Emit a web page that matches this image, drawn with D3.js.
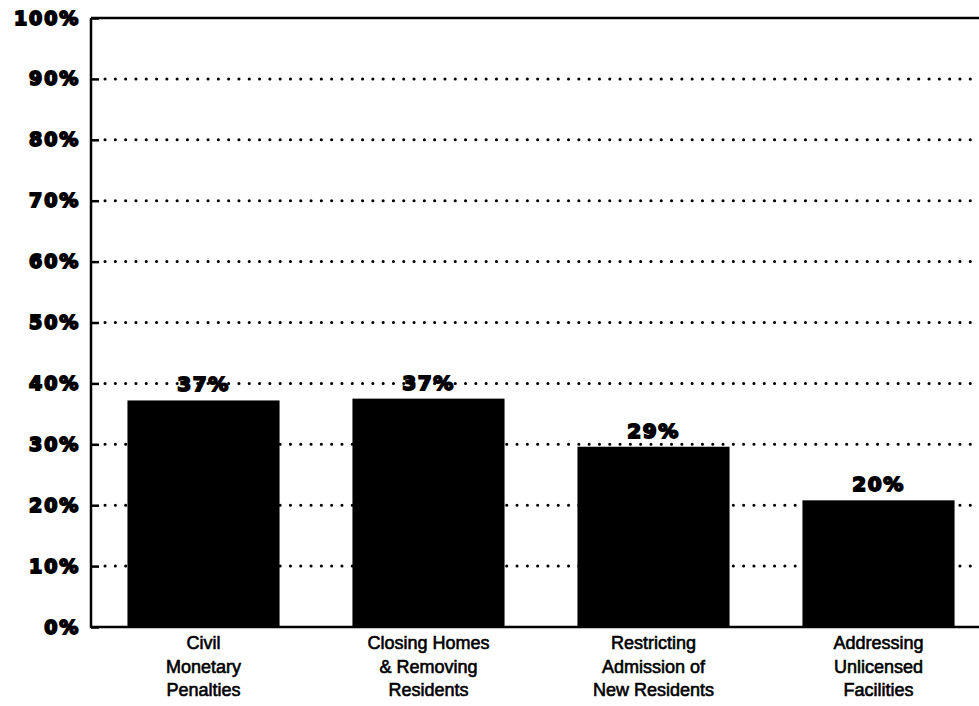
<!DOCTYPE html>
<html>
<head>
<meta charset="utf-8">
<script src="https://cdn.jsdelivr.net/npm/d3@7"></script>
<style>
  body { margin: 0; background: #fff; }
  svg { display: block; }
  .tick-y text { font-family: "DejaVu Sans", sans-serif; font-weight: bold; font-size: 19px; fill: #000; stroke: #000; stroke-width: 1.8; letter-spacing: 1.8px; }
  .barlabel { font-family: "DejaVu Sans", sans-serif; font-weight: bold; font-size: 20px; fill: #000; stroke: #000; stroke-width: 1.8; letter-spacing: 1.5px; }
  .cat { font-family: "Liberation Sans", Arial, sans-serif; font-size: 18px; fill: #000; stroke: #000; stroke-width: 0.6; }
</style>
</head>
<body>
<svg id="chart" width="979" height="706"></svg>
<script>
var categories = [
    ["Civil", "Monetary", "Penalties"],
    ["Closing Homes", "& Removing", "Residents"],
    ["Restricting", "Admission of", "New Residents"],
    ["Addressing", "Unlicensed", "Facilities"]
];
var values = [37.2, 37.5, 29.6, 20.8];
var valueLabels = ["37%", "37%", "29%", "20%"];
var yTicks = [0, 10, 20, 30, 40, 50, 60, 70, 80, 90, 100];

var svg = d3.select("#chart");
var margin = {top: 18, left: 91};
var plotBottom = 627;

var x = d3.scaleBand()
        .domain(d3.range(categories.length))
        .range([margin.left, margin.left + 900])
        .paddingInner(0.324)
        .paddingOuter(0.162);

var y = d3.scaleLinear()
        .domain([0, 100])
        .range([plotBottom, margin.top]);

// dotted gridlines
svg.append("g")
        .selectAll("line")
        .data(yTicks.filter(function (d) { return d > 0 && d < 100; }))
        .enter().append("line")
        .attr("x1", margin.left + 14)
        .attr("x2", 979)
        .attr("y1", function (d) { return y(d); })
        .attr("y2", function (d) { return y(d); })
        .attr("stroke", "#000")
        .attr("stroke-width", 3)
        .attr("stroke-linecap", "round")
        .attr("stroke-dasharray", "0.1,10.2");

// bars
svg.append("g")
        .selectAll("rect")
        .data(values)
        .enter().append("rect")
        .attr("x", function (d, i) { return x(i); })
        .attr("width", x.bandwidth())
        .attr("y", function (d) { return y(d); })
        .attr("height", function (d) { return y(0) - y(d); })
        .attr("fill", "#000");

// value labels
svg.append("g")
        .selectAll("text")
        .data(values)
        .enter().append("text")
        .attr("class", "barlabel")
        .attr("x", function (d, i) { return x(i) + x.bandwidth() / 2; })
        .attr("y", function (d) { return y(d) - 9; })
        .attr("text-anchor", "middle")
        .text(function (d, i) { return valueLabels[i]; });

// y axis
var yAxis = svg.append("g")
        .attr("class", "tick-y")
        .attr("transform", "translate(" + margin.left + ",0)")
        .call(d3.axisLeft(y).tickValues(yTicks).tickSize(-8).tickPadding(11)
                .tickFormat(function (d) { return d + "%"; }));
yAxis.select(".domain").remove();
yAxis.selectAll(".tick line").attr("stroke", "#000").attr("stroke-width", 2.5);

// frame: left, bottom, top
svg.append("line").attr("x1", margin.left).attr("x2", margin.left)
        .attr("y1", y(100)).attr("y2", y(0) + 1)
        .attr("stroke", "#000").attr("stroke-width", 2.5);
svg.append("line").attr("x1", margin.left).attr("x2", 979)
        .attr("y1", y(0)).attr("y2", y(0))
        .attr("stroke", "#000").attr("stroke-width", 2.5);
svg.append("line").attr("x1", margin.left).attr("x2", 979)
        .attr("y1", y(100)).attr("y2", y(100))
        .attr("stroke", "#000").attr("stroke-width", 2.5);

// category labels
var cat = svg.append("g")
        .selectAll("text")
        .data(categories)
        .enter().append("text")
        .attr("class", "cat")
        .attr("text-anchor", "middle")
        .attr("x", function (d, i) { return x(i) + x.bandwidth() / 2; })
        .attr("y", 649);
cat.selectAll("tspan")
        .data(function (d) { return d; })
        .enter().append("tspan")
        .attr("x", function () { return d3.select(this.parentNode).attr("x"); })
        .attr("dy", function (d, i) { return i === 0 ? 0 : 23.5; })
        .text(function (d) { return d; });
</script>
</body>
</html>
